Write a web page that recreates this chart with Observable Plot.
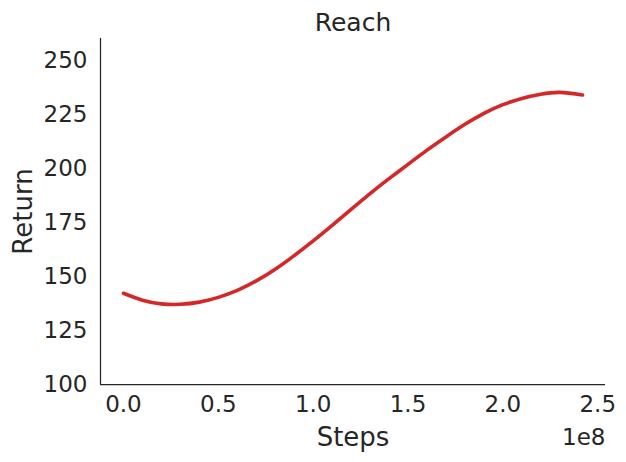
<!DOCTYPE html>
<html><head><meta charset="utf-8">
<script src="https://cdn.jsdelivr.net/npm/d3@7"></script>
<script src="https://cdn.jsdelivr.net/npm/@observablehq/plot@0.6"></script>
<style>body{margin:0;background:#fff}</style>
</head><body><div id="chart"></div>
<script>
const steps = [0, 1e7, 2e7, 3e7, 4e7, 5e7, 6e7, 7e7, 8e7, 9e7, 1.0e8, 1.1e8, 1.2e8, 1.3e8, 1.4e8, 1.5e8, 1.6e8, 1.7e8, 1.8e8, 1.9e8, 2.0e8, 2.1e8, 2.2e8, 2.3e8, 2.42e8];
const returns = [142.2, 139.0, 137.3, 137.1, 138.1, 140.3, 143.5, 147.9, 153.3, 159.6, 166.4, 173.6, 181.0, 188.3, 195.2, 201.8, 208.4, 214.5, 220.3, 225.4, 229.4, 232.3, 234.2, 235.1, 233.9];
const xTicks = [0, 0.5e8, 1.0e8, 1.5e8, 2.0e8, 2.5e8];
const yTicks = [100, 125, 150, 175, 200, 225, 250];
const titleText = "Reach";
const xLabel = "Steps";
const yLabel = "Return";
const xOffsetText = "1e8";

const data = steps.map((s, i) => ({step: s, ret: returns[i]}));
const ink = "#262626";

const chart = Plot.plot({
  width: 626, height: 462,
  marginLeft: 100, marginRight: 21, marginTop: 38, marginBottom: 78,
  style: {fontFamily: "DejaVu Sans", fontSize: "23px", color: ink, background: "#fff"},
  x: {domain: [-0.121e8, 2.541e8]},
  y: {domain: [100, 260]},
  marks: [
    Plot.axisX({ticks: xTicks, tickSize: 0, tickPadding: 11, tickFormat: d => (d / 1e8).toFixed(1), label: null, fontSize: 23}),
    Plot.axisY({ticks: yTicks, tickSize: 0, tickPadding: 13, label: null, fontSize: 23}),
    Plot.ruleX([-0.121e8], {stroke: ink, strokeWidth: 1.25}),
    Plot.ruleY([100], {stroke: ink, strokeWidth: 1.25}),
    Plot.line(data, {x: "step", y: "ret", stroke: "#d62728", strokeWidth: 3.6, curve: "natural", strokeLinecap: "round"}),
    Plot.text([titleText], {frameAnchor: "top", lineAnchor: "middle", textAnchor: "middle", dy: -16, fontSize: 25, fill: ink}),
    Plot.text([xLabel], {frameAnchor: "bottom", lineAnchor: "middle", textAnchor: "middle", dy: 53, fontSize: 26, fill: ink}),
    Plot.text([xOffsetText], {frameAnchor: "bottom-right", lineAnchor: "middle", textAnchor: "end", dy: 53, fontSize: 23, fill: ink}),
    Plot.text([yLabel], {frameAnchor: "left", lineAnchor: "middle", textAnchor: "middle", rotate: -90, dx: -77, fontSize: 26, fill: ink})
  ]
});
document.getElementById("chart").append(chart);
</script>
</body></html>
